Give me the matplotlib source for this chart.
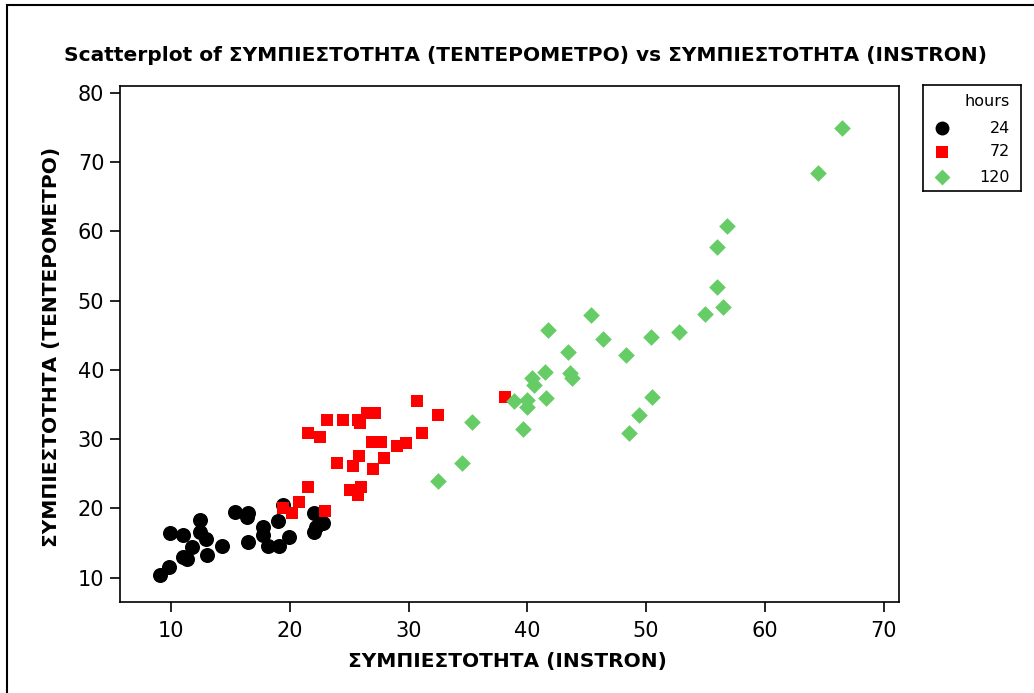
import matplotlib
matplotlib.use("Agg")
import matplotlib.pyplot as plt
from matplotlib.patches import Rectangle

plt.rcParams["font.family"] = ["DejaVu Sans"]

# 24 hours
x_24 = [9.1, 9.8, 9.9, 11.0, 11.8, 12.4, 12.4, 12.9, 11.0, 11.3, 13.0, 14.3, 15.4, 16.5,
        16.4, 16.5, 17.7, 17.7, 18.2, 19.1, 19.0, 19.4, 19.9, 22.0, 22.0, 22.8, 22.2]
y_24 = [10.4, 11.6, 16.5, 16.2, 14.5, 18.4, 16.6, 15.6, 13.0, 12.7, 13.3, 14.6, 19.5, 19.4,
        18.8, 15.1, 17.4, 16.2, 14.6, 14.6, 18.2, 20.5, 15.9, 19.4, 16.6, 17.9, 17.4]

# 72 hours
x_72 = [30.7, 32.5, 23.1, 24.5, 25.7, 25.9, 26.5, 27.2, 21.5, 22.5, 31.1, 26.9, 27.7, 29.0,
        29.8, 25.8, 27.9, 24.0, 25.3, 27.0, 21.5, 25.1, 26.0, 25.7, 20.8, 19.4, 20.2, 23.0, 38.1]
y_72 = [35.5, 33.5, 32.8, 32.8, 32.8, 32.4, 33.8, 33.8, 30.9, 30.3, 30.9, 29.6, 29.6, 29.0,
        29.5, 27.6, 27.3, 26.6, 26.2, 25.7, 23.1, 22.7, 23.1, 22.0, 21.0, 20.1, 19.4, 19.7, 36.1]

# 120 hours
x_120 = [45.4, 41.7, 46.4, 50.4, 52.8, 43.4, 48.3, 41.5, 40.4, 40.6, 43.6, 43.8, 38.9, 40.0,
         40.0, 41.6, 35.3, 39.6, 50.5, 49.4, 48.6, 34.5, 32.5, 66.5, 64.5, 56.8, 56.0, 56.0,
         56.5, 55.0]
y_120 = [48.0, 45.8, 44.5, 44.8, 45.5, 42.6, 42.2, 39.7, 38.9, 37.8, 39.6, 38.9, 35.5, 35.7,
         34.7, 36.0, 32.5, 31.5, 36.1, 33.5, 30.9, 26.6, 23.9, 74.9, 68.4, 60.8, 57.8, 52.0,
         49.1, 48.1]

groups = ["24", "72", "120"]
xs = [x_24, x_72, x_120]
ys = [y_24, y_72, y_120]
colors = ["black", "#ff0000", "#66cc66"]
markers = ["o", "s", "D"]
sizes = [117, 79, 72]

W, H = 1034, 693
fig = plt.figure(figsize=(W / 100, H / 100), dpi=100)

# frame round the picture (only left and top edges show)
fig.add_artist(Rectangle((7 / W, -0.1), 1.2, 1.1 - 5 / H + 0.0, transform=fig.transFigure,
                         fill=False, edgecolor="black", linewidth=1.5))

ax = fig.add_axes([120 / W, 91 / H, 779 / W, 516 / H])
for xv, yv, c, m, s in zip(xs, ys, colors, markers, sizes):
    ax.scatter(xv, yv, c=c, marker=m, s=s, linewidths=0, zorder=3)

ax.set_xlim(5.7, 71.3)
ax.set_ylim(6.5, 81)
ax.set_xticks(range(10, 71, 10))
ax.set_yticks(range(10, 81, 10))
ax.tick_params(axis="both", direction="out", length=7, width=1.2, labelsize=15)
ax.tick_params(axis="x", pad=6.5)
ax.tick_params(axis="y", pad=4.3)
for sp in ax.spines.values():
    sp.set_linewidth(1.2)

fig.text(526 / W, 1 - 61 / H,
         "Scatterplot of ΣΥΜΠΙΕΣΤΟΤΗΤΑ (ΤΕΝΤΕΡΟΜΕΤΡΟ) vs ΣΥΜΠΙΕΣΤΟΤΗΤΑ (INSTRON)",
         ha="center", va="baseline", fontsize=14.5, fontweight="bold")
fig.text(507 / W, 26 / H, "ΣΥΜΠΙΕΣΤΟΤΗΤΑ (INSTRON)",
         ha="center", va="baseline", fontsize=14.5, fontweight="bold")
fig.text(52 / W, 1 - 347 / H, "ΣΥΜΠΙΕΣΤΟΤΗΤΑ (ΤΕΝΤΕΡΟΜΕΤΡΟ)",
         ha="center", va="center", rotation=90, fontsize=14.5, fontweight="bold")

# legend box
lax = fig.add_axes([923 / W, 1 - 191 / H, 98 / W, 106 / H])
lax.set_xlim(0, 1)
lax.set_ylim(0, 1)
lax.set_xticks([])
lax.set_yticks([])
for sp in lax.spines.values():
    sp.set_linewidth(1.2)
lax.text(0.89, 0.84, "hours", ha="right", va="center", fontsize=11.5)
rows = [0.59, 0.37, 0.13]
leg_sizes = [100, 70, 65]
for i, g in enumerate(groups):
    lax.scatter([0.19], [rows[i]], c=colors[i], marker=markers[i], s=leg_sizes[i], linewidths=0)
    lax.text(0.89, rows[i], g, ha="right", va="center", fontsize=11.5)

fig.savefig("out.png", dpi=100)
